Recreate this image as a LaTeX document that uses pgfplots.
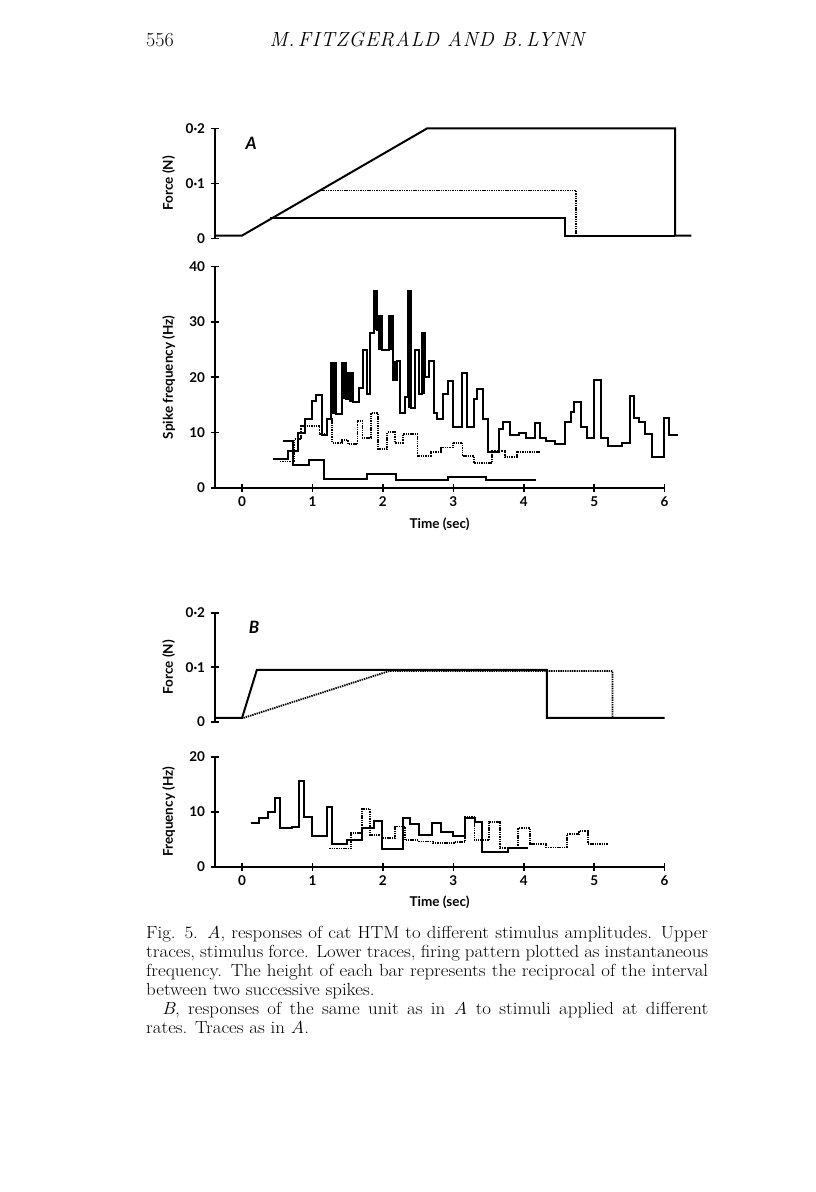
\documentclass[border=0pt]{standalone}
\usepackage{fontspec}
\usepackage{pgfplots}
\pgfplotsset{compat=1.18}
\newfontfamily\lato{Lato}
\newfontfamily\capfont{Latin Modern Roman}[FakeStretch=1.08]
\newfontfamily\headfont{Latin Modern Roman}[LetterSpace=4]
\newcommand\tkfont{\lato\bfseries\fontsize{13.5}{14}\selectfont}
\newcommand\lbfont{\lato\bfseries\fontsize{13.5}{14}\selectfont}
\pgfplotsset{
  base/.style={
    scale only axis, width=450pt, xmin=-0.39, xmax=6, clip=false,
    tick style={line width=1.6pt, black},
    major tick length=8pt, tick align=inside,
    tick label style={font=\tkfont},
    yticklabel style={xshift=-2pt},
    xticklabel style={yshift=-1pt},
    ylabel style={font=\lbfont, at={(axis description cs:0,0.5)}, anchor=center, rotate=0, yshift=46pt},
    xlabel style={font=\lbfont, at={(axis description cs:0.5,0)}, anchor=center, yshift=-36pt},
    trace/.style={line width=2pt, const plot, line join=miter},
    dtrace/.style={line width=1.8pt, const plot, dash pattern=on 1.4pt off 0.9pt},
  },
  noarrows/.style={
    every outer x axis line/.append style={-},
    every outer y axis line/.append style={-},
    every inner x axis line/.append style={-},
    every inner y axis line/.append style={-},
    axis line style={-, line width=2pt},
    x axis line style={-}, y axis line style={-},
  },
  force/.style={base, height=110pt, ymin=0, ymax=0.2, axis x line=none, axis y line=left,
    ytick={0,0.1,0.2}, yticklabels={0,0·1,0·2}, ylabel={Force (N)}, noarrows},
}
\begin{document}
\begin{tikzpicture}
\fill[white] (0,0) rectangle (816pt,-1192pt);
% header
\node[anchor=base west, inner sep=0pt, font=\fontsize{20}{22}\selectfont] at (146pt,-46pt) {556};
\node[anchor=base, inner sep=0pt, font=\headfont\fontsize{20.5}{22}\selectfont\itshape] at (427pt,-46pt) {M.\,FITZGERALD AND B.\,LYNN};

% ---------- Panel A force ----------
\begin{axis}[force, at={(214.6pt,-238.3pt)}, anchor=south west]
\addplot[trace, const plot=false, sharp plot] coordinates {(-0.39,0.005)(0,0.005)(2.63,0.2)(6.15,0.2)(6.15,0.005)(6.38,0.005)};
\addplot[trace, sharp plot] coordinates {(0.40,0.0365)(4.59,0.0365)(4.59,0.005)(6.15,0.005)};
\addplot[dtrace, sharp plot] coordinates {(1.09,0.087)(4.74,0.087)(4.74,0.005)};
\node[font=\lato\bfseries\itshape\fontsize{17}{17}\selectfont] at (axis cs:0.13,0.173) {A};
\end{axis}

% ---------- Panel A spike frequency ----------
\begin{axis}[base, at={(214.6pt,-488pt)}, anchor=south west, height=221.5pt,
  ymin=0, ymax=40, axis x line=bottom, axis y line=left, noarrows,
  ytick={0,10,20,30,40}, yticklabels={0,10,20,30,40},
  xtick={0,1,2,3,4,5,6}, xticklabels={0,1,2,3,4,5,6},
  ylabel={Spike frequency (Hz)}, xlabel={Time (sec)}]
% high-force unit response
\addplot[trace] coordinates {(0.44,5.2)(0.65,6.6)(0.80,10)(0.89,12.5)(1.0,15.7)(1.05,16.8)(1.13,9.5)(1.21,12.5)(1.26,22.5)(1.34,13.3)(1.42,22.5)(1.48,16)(1.50,20.7)(1.58,15.5)(1.66,18)(1.72,25)(1.78,17)(1.82,28)(1.87,35.5)(1.91,28.5)(1.93,31)(1.98,25)(2.09,31)(2.14,19.5)(2.20,23)(2.24,13.5)(2.31,16.5)(2.35,35.5)(2.40,14.5)(2.45,25)(2.51,17)(2.56,28)(2.60,20)(2.66,23)(2.73,13.5)(2.77,12.5)(2.86,17)(2.92,19.3)(3.0,11)(3.12,20.7)(3.19,11)(3.29,16)(3.34,17.8)(3.42,12.5)(3.49,6.5)(3.65,10.7)(3.71,12)(3.80,9.5)(3.93,10)(4.03,9)(4.16,11.8)(4.23,9)(4.31,8.5)(4.44,7.9)(4.58,12)(4.67,13.8)(4.72,15.5)(4.81,11)(4.90,9)(5.0,19.5)(5.09,9)(5.20,7.5)(5.40,8.2)(5.51,16.7)(5.56,12.7)(5.64,12)(5.72,9.8)(5.82,5.6)(5.99,12.6)(6.06,9.5)(6.19,9.5)};
% filled narrow bars
\addplot[line width=2.8pt, unbounded coords=jump] coordinates {(1.30,13.3)(1.30,22.5)(1.30,nan)(1.45,16)(1.45,22.5)(1.45,nan)(1.54,15.5)(1.54,20.7)(1.54,nan)(1.89,28.5)(1.89,35.5)(1.89,nan)(1.955,25)(1.955,31)(1.955,nan)(2.115,25)(2.115,31)(2.115,nan)(2.17,19.5)(2.17,23)(2.17,nan)(2.375,14.5)(2.375,35.5)(2.375,nan)(2.58,17)(2.58,28)};
% medium-force response (dotted)
\addplot[dtrace] coordinates {(0.54,4.8)(0.74,8.8)(0.84,11.2)(1.10,9.7)(1.20,12.5)(1.28,8.2)(1.42,8.7)(1.50,7.9)(1.64,12.1)(1.71,9.1)(1.83,13.5)(1.93,7)(2.06,10.1)(2.17,8.2)(2.28,9.7)(2.49,5.8)(2.68,6.5)(2.82,7.3)(2.99,8.2)(3.13,5.8)(3.29,4.5)(3.55,6.7)(3.73,5.6)(3.90,6.5)(4.23,6.5)};
% low-force response
\addplot[trace] coordinates {(0.58,8.5)(0.72,4.2)(0.95,5.0)(1.17,1.6)(1.78,2.5)(2.18,1.4)(2.93,2.0)(3.46,1.5)(4.17,1.5)};
\end{axis}

% ---------- Panel B force ----------
\begin{axis}[force, at={(214.6pt,-721.7pt)}, anchor=south west, height=109pt]
\addplot[dtrace, sharp plot] coordinates {(0.02,0.007)(2.09,0.093)(5.26,0.093)(5.26,0.007)};
\addplot[trace, sharp plot] coordinates {(-0.39,0.007)(0,0.007)(0.21,0.095)(4.33,0.095)(4.33,0.007)(6.0,0.007)};
\node[font=\lato\bfseries\itshape\fontsize{17}{17}\selectfont] at (axis cs:0.17,0.174) {B};
\end{axis}

% ---------- Panel B frequency ----------
\begin{axis}[base, at={(214.6pt,-866.7pt)}, anchor=south west, height=110pt,
  ymin=0, ymax=20, axis x line=bottom, axis y line=left, noarrows,
  ytick={0,10,20}, yticklabels={0,10,20},
  xtick={0,1,2,3,4,5,6}, xticklabels={0,1,2,3,4,5,6},
  ylabel={Frequency (Hz)}, xlabel={Time (sec)}]
\addplot[trace] coordinates {(0.12,8)(0.24,8.9)(0.37,10)(0.47,12.5)(0.54,7)(0.71,7.3)(0.81,15.5)(0.88,9)(1.0,5.5)(1.20,10.8)(1.28,4.2)(1.49,4.8)(1.70,7)(1.87,8.3)(1.98,3.3)(2.29,8.9)(2.39,7.7)(2.51,5.7)(2.69,8)(2.82,6.3)(2.99,5.6)(3.16,8.8)(3.31,8.2)(3.41,2.6)(3.78,3.4)(4.06,3.4)};
\addplot[dtrace] coordinates {(1.24,3.3)(1.55,6.2)(1.70,10.5)(1.82,5.7)(1.98,5.2)(2.17,7.3)(2.31,4.8)(2.49,4.6)(2.71,4.3)(3.01,4.5)(3.17,9)(3.30,4.8)(3.51,8.2)(3.66,3.4)(3.92,7)(4.09,4.2)(4.32,3.5)(4.61,5.9)(4.79,6.5)(4.91,4.2)(5.19,4.2)};
\end{axis}

% caption
\node[anchor=north west, inner sep=0pt, text width=562pt, align=justify,
  font=\capfont\fontsize{17.5}{19}\selectfont] at (146pt,-926pt) {%
Fig. 5. \textit{A}, responses of cat HTM to different stimulus amplitudes. Upper\linebreak
traces, stimulus force. Lower traces, firing pattern plotted as instantaneous\linebreak
frequency. The height of each bar represents the reciprocal of the interval\linebreak
between two successive spikes.\par
\hspace*{16pt}\textit{B}, responses of the same unit as in \textit{A} to stimuli applied at different\linebreak
rates. Traces as in \textit{A}.};
\end{tikzpicture}
\end{document}
